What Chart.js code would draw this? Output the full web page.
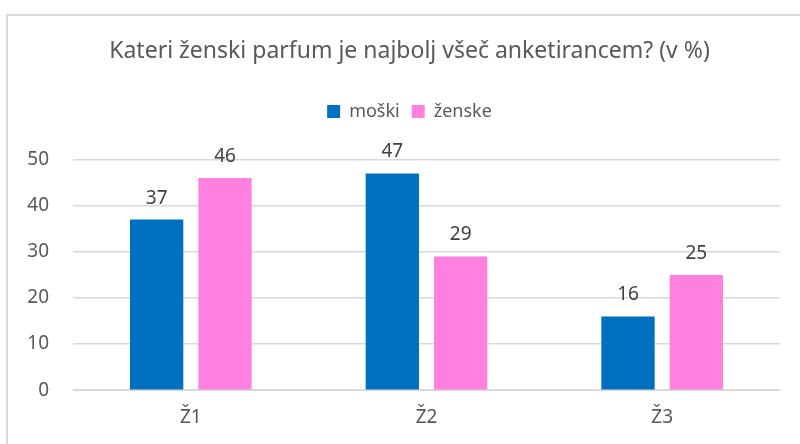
<!DOCTYPE html>
<html>
<head>
<meta charset="utf-8">
<script src="https://cdn.jsdelivr.net/npm/chart.js@4"></script>
<style>
  html, body { margin: 0; padding: 0; background: #fff; }
  #frame { position: absolute; left: 6px; top: 14px; width: 820px; height: 460px; border: 2px solid #d9d9d9; box-sizing: border-box; }
  #wrap { position: absolute; left: 0; top: 0; width: 800px; height: 444px; }
</style>
</head>
<body>
<div id="frame"></div>
<div id="wrap"><canvas id="chart" width="800" height="444"></canvas></div>
<script>
const categories = ["Ž1", "Ž2", "Ž3"];
const moski = [37, 47, 16];
const zenske = [46, 29, 25];
const yTicks = [0, 10, 20, 30, 40, 50];

const fontFamily = "'Noto Sans', 'Open Sans', sans-serif";
const textColor = "#595959";

// draws the value above each bar
const barLabels = {
  id: "barLabels",
  afterDatasetsDraw(chart) {
    const ctx = chart.ctx;
    ctx.save();
    ctx.font = "19px " + fontFamily;
    ctx.fillStyle = "#404040";
    ctx.textAlign = "center";
    ctx.textBaseline = "alphabetic";
    chart.data.datasets.forEach((ds, i) => {
      chart.getDatasetMeta(i).data.forEach((bar, j) => {
        ctx.fillText(ds.data[j], bar.x, bar.y - 16);
      });
    });
    ctx.restore();
  },
};

// extra room under the legend, and centre title + legend on the frame
const headerFix = {
  id: "headerFix",
  beforeInit(chart) {
    const fit = chart.legend.fit;
    chart.legend.fit = function () {
      fit.bind(chart.legend)();
      this.height += 29;
    };
  },
  afterLayout(chart) {
    [chart.titleBlock, chart.legend].forEach((b) => {
      b.left += 17;
      b.right += 17;
    });
  },
};

const data = {
  labels: categories,
  datasets: [
    {
      label: "moški",
      data: moski,
      backgroundColor: "#0070c0",
      categoryPercentage: 0.58,
      barPercentage: 0.78,
    },
    {
      label: "ženske",
      data: zenske,
      backgroundColor: "#ff80df",
      categoryPercentage: 0.58,
      barPercentage: 0.78,
    },
  ],
};

const config = {
  type: "bar",
  data: data,
  plugins: [barLabels, headerFix],
  options: {
    responsive: false,
    animation: false,
    layout: { padding: { top: 38, left: 5, right: 20, bottom: 7 } },
    plugins: {
      title: {
        display: true,
        text: "Kateri ženski parfum je najbolj všeč anketirancem? (v %)",
        color: textColor,
        font: { family: fontFamily, size: 23, weight: "normal" },
        padding: { top: 0, bottom: 25 },
      },
      legend: {
        labels: {
          color: textColor,
          font: { family: fontFamily, size: 18 },
          boxWidth: 13,
          boxHeight: 13,
          padding: 12,
        },
      },
      tooltip: { enabled: false },
    },
    scales: {
      x: {
        grid: { display: false },
        border: { color: "#d9d9d9", width: 1 },
        ticks: { color: textColor, font: { family: fontFamily, size: 19 }, padding: 8 },
      },
      y: {
        min: 0,
        max: 50,
        afterBuildTicks(axis) {
          axis.ticks = yTicks.map((v) => ({ value: v }));
        },
        afterFit(axis) {
          axis.width = 68;
        },
        grid: { color: "#d9d9d9", lineWidth: 1.5, drawTicks: false },
        border: { display: false },
        ticks: { color: textColor, font: { family: fontFamily, size: 19 }, padding: 24 },
      },
    },
  },
};

const ctx = document.getElementById("chart").getContext("2d");
const chart = new Chart(ctx, config);
</script>
</body>
</html>
